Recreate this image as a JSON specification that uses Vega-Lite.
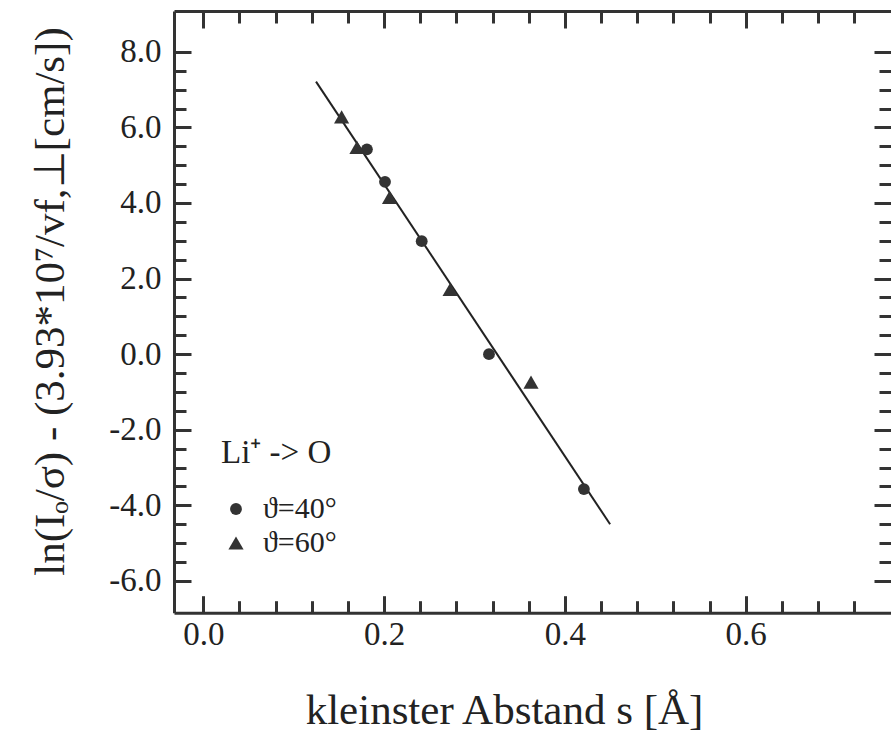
{
  "$schema": "https://vega.github.io/schema/vega-lite/v6.json",
  "width": 717,
  "height": 601.7,
  "autosize": "none",
  "padding": {"left": 174, "top": 11, "right": 0, "bottom": 122.3},
  "background": "white",
  "config": {
    "view": {"stroke": null},
    "font": "Liberation Serif",
    "axis": {
      "grid": false,
      "domainColor": "#333",
      "domainWidth": 3,
      "tickColor": "#333",
      "tickWidth": 3,
      "labelFont": "Liberation Serif",
      "labelFontSize": 33,
      "labelColor": "#222",
      "titleFont": "Liberation Serif",
      "titleFontSize": 43,
      "titleColor": "#222",
      "titleFontWeight": "normal"
    },
    "legend": {
      "titleFont": "Liberation Serif",
      "labelFont": "Liberation Serif",
      "titleFontWeight": "normal",
      "titleColor": "#222",
      "labelColor": "#222",
      "titleFontSize": 33,
      "labelFontSize": 30,
      "titlePadding": 24,
      "rowPadding": 4,
      "labelOffset": 12,
      "padding": 0,
      "symbolFillColor": "#333",
      "symbolStrokeColor": "#333"
    }
  },
  "datasets": {
    "points": [
      {"s": 0.181, "v": 5.42, "series": "ϑ=40°"},
      {"s": 0.201, "v": 4.56, "series": "ϑ=40°"},
      {"s": 0.2416, "v": 2.99, "series": "ϑ=40°"},
      {"s": 0.316, "v": 0.0, "series": "ϑ=40°"},
      {"s": 0.421, "v": -3.57, "series": "ϑ=40°"},
      {"s": 0.153, "v": 6.28, "series": "ϑ=60°"},
      {"s": 0.170, "v": 5.47, "series": "ϑ=60°"},
      {"s": 0.206, "v": 4.15, "series": "ϑ=60°"},
      {"s": 0.273, "v": 1.71, "series": "ϑ=60°"},
      {"s": 0.3625, "v": -0.74, "series": "ϑ=60°"}
    ],
    "fit": [
      {"s": 0.1247, "v": 7.21},
      {"s": 0.45, "v": -4.5}
    ]
  },
  "layer": [
    {
      "data": {"name": "fit"},
      "mark": {"type": "line", "color": "#222", "strokeWidth": 2},
      "encoding": {
        "x": {
          "field": "s", "type": "quantitative",
          "scale": {"domain": [-0.0324, 0.7607], "nice": false, "zero": false},
          "axis": {"orient": "bottom", "values": [0, 0.2, 0.4, 0.6], "format": ".1f", "ticks": false, "tickSize": 0, "labelPadding": 6, "title": "kleinster Abstand s [Å]", "titlePadding": 38, "titleX": 330, "domain": true}
        },
        "y": {
          "field": "v", "type": "quantitative",
          "scale": {"domain": [-6.84, 9.08], "nice": false, "zero": false},
          "axis": {"orient": "left", "values": [-6, -4, -2, 0, 2, 4, 6, 8], "labelExpr": "replace(format(datum.value, '.1f'), '−', '-')", "ticks": false, "tickSize": 0, "labelPadding": 13, "title": "ln(Iₒ/σ) - (3.93*10⁷/vf,⊥[cm/s])", "titlePadding": 36, "titleY": 290, "domain": true}
        }
      }
    },
    {
      "data": {"name": "points"},
      "mark": {"type": "point", "filled": true, "color": "#333", "opacity": 1},
      "encoding": {
        "x": {
          "field": "s", "type": "quantitative",
          "axis": {"orient": "bottom", "values": [0, 0.2, 0.4, 0.6], "labels": false, "domain": false, "tickSize": -17, "title": null}
        },
        "y": {
          "field": "v", "type": "quantitative",
          "axis": {"orient": "left", "values": [-6, -4, -2, 0, 2, 4, 6, 8], "labels": false, "domain": false, "tickSize": -17, "title": null}
        },
        "size": {
          "field": "series", "type": "nominal",
          "scale": {"domain": ["ϑ=40°", "ϑ=60°"], "range": [140, 230]},
          "legend": {"title": "Li⁺ -> O", "orient": "none", "legendX": 47, "legendY": 426}
        },
        "shape": {
          "field": "series", "type": "nominal",
          "scale": {"domain": ["ϑ=40°", "ϑ=60°"], "range": ["circle", "triangle-up"]},
          "legend": {"title": "Li⁺ -> O", "orient": "none", "legendX": 47, "legendY": 426}
        }
      }
    },
    {
      "data": {"name": "fit"},
      "mark": {"type": "line", "opacity": 0},
      "encoding": {
        "x": {
          "field": "s", "type": "quantitative",
          "axis": {"orient": "bottom", "values": [0.04, 0.08, 0.12, 0.16, 0.24, 0.28, 0.32, 0.36, 0.44, 0.48, 0.52, 0.56, 0.64, 0.68, 0.72], "labels": false, "domain": false, "tickSize": -12, "title": null}
        },
        "y": {
          "field": "v", "type": "quantitative",
          "axis": {"orient": "left", "values": [-5.5, -5, -4.5, -3.5, -3, -2.5, -1.5, -1, -0.5, 0.5, 1, 1.5, 2.5, 3, 3.5, 4.5, 5, 5.5, 6.5, 7, 7.5], "labels": false, "domain": false, "tickSize": -12, "title": null}
        }
      }
    },
    {
      "data": {"name": "fit"},
      "mark": {"type": "line", "opacity": 0},
      "encoding": {
        "x": {
          "field": "s", "type": "quantitative",
          "axis": {"orient": "top", "values": [0, 0.2, 0.4, 0.6], "labels": false, "domain": true, "tickSize": -17, "title": null}
        },
        "y": {
          "field": "v", "type": "quantitative",
          "axis": {"orient": "right", "values": [-6, -4, -2, 0, 2, 4, 6, 8], "labels": false, "domain": false, "tickSize": -17, "title": null}
        }
      }
    },
    {
      "data": {"name": "fit"},
      "mark": {"type": "line", "opacity": 0},
      "encoding": {
        "x": {
          "field": "s", "type": "quantitative",
          "axis": {"orient": "top", "values": [0.04, 0.08, 0.12, 0.16, 0.24, 0.28, 0.32, 0.36, 0.44, 0.48, 0.52, 0.56, 0.64, 0.68, 0.72], "labels": false, "domain": false, "tickSize": -12, "title": null}
        },
        "y": {
          "field": "v", "type": "quantitative",
          "axis": {"orient": "right", "values": [-5.5, -5, -4.5, -3.5, -3, -2.5, -1.5, -1, -0.5, 0.5, 1, 1.5, 2.5, 3, 3.5, 4.5, 5, 5.5, 6.5, 7, 7.5], "labels": false, "domain": false, "tickSize": -12, "title": null}
        }
      }
    }
  ],
  "resolve": {"axis": {"x": "independent", "y": "independent"}}
}
